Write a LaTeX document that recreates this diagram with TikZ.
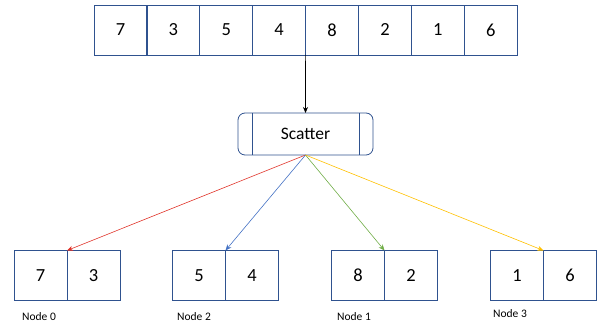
\documentclass[tikz,border=0pt]{standalone}
\usepackage{fontspec}
\setmainfont{Carlito}
\definecolor{edge}{HTML}{2F528F}
\definecolor{R}{HTML}{E0352B}
\definecolor{B}{HTML}{4472C4}
\definecolor{G}{HTML}{70AD47}
\definecolor{Y}{HTML}{FFC000}
\usetikzlibrary{arrows.meta}
\usetikzlibrary{positioning}
\tikzstyle{cell}=[draw=edge, line width=0.8pt, minimum width=53pt, minimum height=50pt, inner sep=0pt, outer sep=0pt, font=\fontsize{18.5}{18.5}\selectfont]
\tikzstyle{caption}=[anchor=west, inner sep=0pt, font=\fontsize{11.5}{12}\selectfont]
\tikzstyle{tip}=[-{Stealth[length=6pt,width=5pt]}, line width=0.6pt]

\begin{document}
\begin{tikzpicture}[x=1pt, y=1pt]
    \path [use as bounding box] (0,0) rectangle (599,323);
    % input array
    \foreach \v [count=\i] in {7,3,5,4,8,2,1,6}
        \node [cell] (a\i) at (94+52.9*\i-26.45, 293) {\v};
    % scatter box
    \node [cell, rounded corners=7pt, minimum width=135pt, minimum height=42pt, font=\fontsize{17.5}{17.5}\selectfont] (scatter) at (305.5,189) {Scatter};
    \draw [edge, line width=0.8pt] ([xshift=14pt]scatter.north west) -- ([xshift=14pt]scatter.south west);
    \draw [edge, line width=0.8pt] ([xshift=-14pt]scatter.north east) -- ([xshift=-14pt]scatter.south east);
    \draw [tip, black] (a5.south west) -- (scatter.north);
    % nodes
    \node [cell] (n0a) at (40.5,47.5) {7};
    \node [cell, right=0pt of n0a] (n0b) {3};
    \node [cell] (n2a) at (199,47.5) {5};
    \node [cell, right=0pt of n2a] (n2b) {4};
    \node [cell] (n1a) at (358,47.5) {8};
    \node [cell, right=0pt of n1a] (n1b) {2};
    \node [cell] (n3a) at (517,47.5) {1};
    \node [cell, right=0pt of n3a] (n3b) {6};
    \node [caption] (l0) at (22,6.5) {Node 0};
    \node [caption] (l2) at (177,6.5) {Node 2};
    \node [caption] (l1) at (337,6.5) {Node 1};
    \node [caption] (l3) at (493,9.5) {Node 3};
    % scatter arrows
    \draw [tip, R] (scatter.south) -- (n0a.north east);
    \draw [tip, B] (scatter.south) -- (n2a.north east);
    \draw [tip, G] (scatter.south) -- (n1a.north east);
    \draw [tip, Y] (scatter.south) -- (n3a.north east);
\end{tikzpicture}
\end{document}
